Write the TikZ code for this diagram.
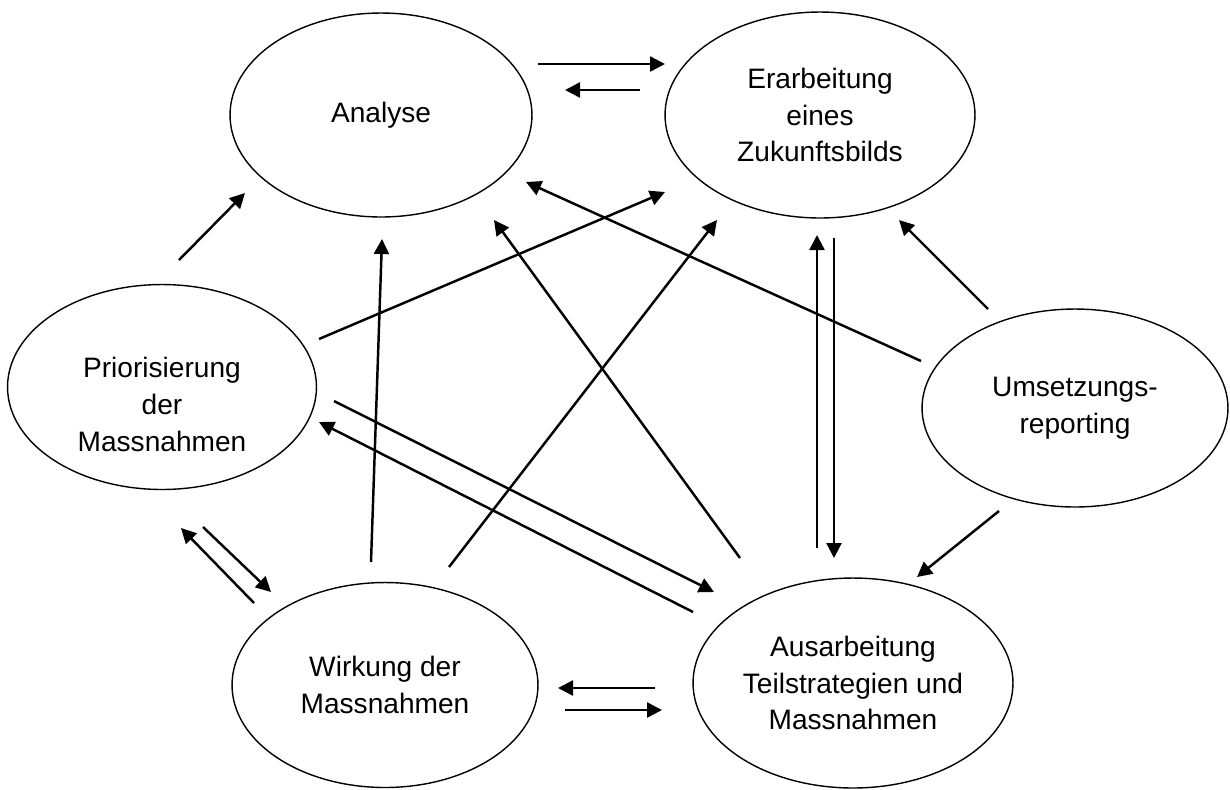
\documentclass[tikz,border=0pt]{standalone}
\usepackage{fontspec}
\setmainfont{Liberation Sans}
\usepackage{tikz}
\usetikzlibrary{shapes.geometric}
\usetikzlibrary{arrows.meta}

\tikzset{
  blob/.style={ellipse, draw, line width=0.8pt, inner sep=0pt, align=center,
    font=\fontsize{16}{21}\selectfont},
  arr/.style={line width=1.4pt, -{Triangle[length=0.3cm,width=0.3cm]}}
}

\begin{document}
\begin{tikzpicture}[x=0.02cm, y=-0.02cm]
        \useasboundingbox (0, 0) rectangle (1230, 789);

        \node[blob, minimum width=6.04cm, minimum height=4.08cm] (ana) at (381, 115) {Analyse};
        \node[blob, minimum width=6.2cm, minimum height=4.12cm] (era) at (820, 115) {Erarbeitung\\eines\\Zukunftsbilds};
        \node[blob, minimum width=6.18cm, minimum height=4.1cm,
              label={[yshift=-0.35cm, align=center, font=\fontsize{16}{21}\selectfont]center:Priorisierung\\der\\Massnahmen}] (pri) at (162, 387) {};
        \node[blob, minimum width=6.12cm, minimum height=3.96cm] (ums) at (1075, 408) {Umsetzungs-\\reporting};
        \node[blob, minimum width=6.12cm, minimum height=4.1cm] (wir) at (385, 685) {Wirkung der\\Massnahmen};
        \node[blob, minimum width=6.4cm, minimum height=4.2cm] (aus) at (853, 683) {Ausarbeitung\\Teilstrategien und\\Massnahmen};

        % oben
        \draw[arr] ([shift={(157,-51)}]ana.center) -- ([shift={(-155,-51)}]era.center);
        \draw[arr] ([shift={(-180,-25)}]era.center) -- ([shift={(184,-25)}]ana.center);

        % von links
        \draw[arr] ([shift={(17,-127)}]pri.center) -- ([shift={(-136,78)}]ana.center);
        \draw[arr] ([shift={(157,-48)}]pri.center) -- ([shift={(-155,77)}]era.center);
        \draw[arr] ([shift={(172,14)}]pri.center) -- ([shift={(-139,-91)}]aus.center);
        \draw[arr] ([shift={(-160,-71)}]aus.center) -- ([shift={(157,35)}]pri.center);

        % von unten
        \draw[arr] ([shift={(-14,-123)}]wir.center) -- ([shift={(1,124)}]ana.center);
        \draw[arr] ([shift={(64,-118)}]wir.center) -- ([shift={(-103,105)}]era.center);
        \draw[arr] ([shift={(-113,-125)}]aus.center) -- ([shift={(113,105)}]ana.center);
        \draw[arr] ([shift={(-36,-135)}]aus.center) -- ([shift={(-3,120)}]era.center);
        \draw[arr] ([shift={(14,123)}]era.center) -- ([shift={(-19,-125)}]aus.center);

        % von rechts
        \draw[arr] ([shift={(-154,-47)}]ums.center) -- ([shift={(145,67)}]ana.center);
        \draw[arr] ([shift={(-87,-99)}]ums.center) -- ([shift={(79,105)}]era.center);
        \draw[arr] ([shift={(-76,103)}]ums.center) -- ([shift={(64,-106)}]aus.center);

        % unten links
        \draw[arr] ([shift={(-131,-82)}]wir.center) -- ([shift={(19,141)}]pri.center);
        \draw[arr] ([shift={(41,140)}]pri.center) -- ([shift={(-114,-93)}]wir.center);
        \draw[arr] ([shift={(-198,5)}]aus.center) -- ([shift={(173,3)}]wir.center);
        \draw[arr] ([shift={(180,25)}]wir.center) -- ([shift={(-191,27)}]aus.center);
\end{tikzpicture}
\end{document}
